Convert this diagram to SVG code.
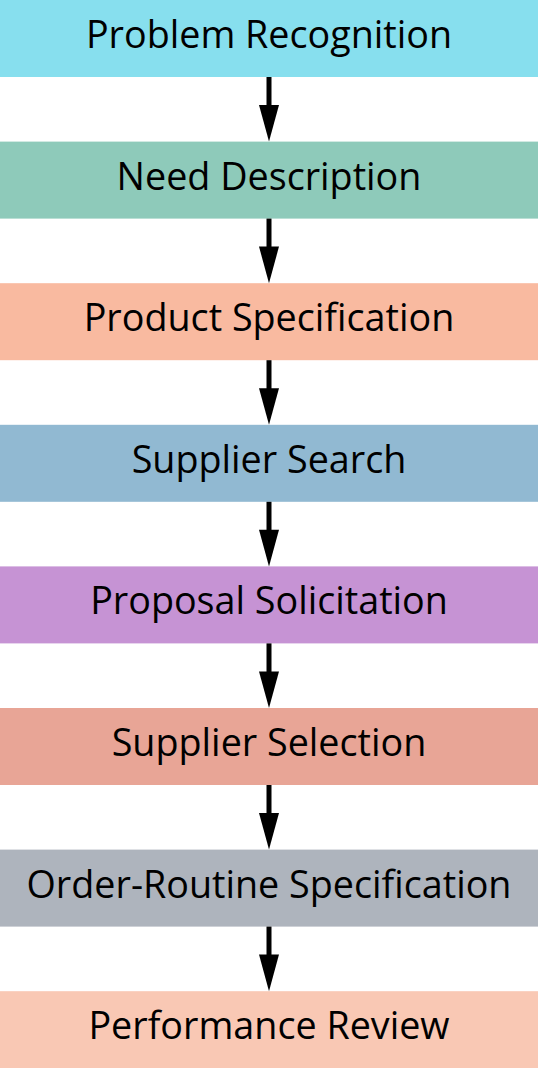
<svg xmlns="http://www.w3.org/2000/svg" width="538" height="1068" viewBox="0 0 538 1068">
<style>
.lbl{font-family:"Open Sans","Noto Sans",sans-serif;font-size:37.7px;fill:#000;text-anchor:middle}
.ln{stroke:#000;stroke-width:5;fill:none}
.ah{fill:#000}
</style>
<rect width="538" height="1068" fill="#fff"/>
<g id="n1"><rect x="0" y="0" width="538" height="77" fill="#87DFEE"/><text class="lbl" x="269" y="48">Problem Recognition</text></g>
<g id="n2"><rect x="0" y="141.6" width="538" height="77" fill="#8ECABA"/><text class="lbl" x="269" y="189.6">Need Description</text></g>
<g id="n3"><rect x="0" y="283.2" width="538" height="77" fill="#F9BAA0"/><text class="lbl" x="269" y="331.2">Product Specification</text></g>
<g id="n4"><rect x="0" y="424.8" width="538" height="77" fill="#91B9D2"/><text class="lbl" x="269" y="472.8">Supplier Search</text></g>
<g id="n5"><rect x="0" y="566.4" width="538" height="77" fill="#C693D4"/><text class="lbl" x="269" y="614.4">Proposal Solicitation</text></g>
<g id="n6"><rect x="0" y="708" width="538" height="77" fill="#E8A596"/><text class="lbl" x="269" y="756">Supplier Selection</text></g>
<g id="n7"><rect x="0" y="849.6" width="538" height="77" fill="#AEB4BD"/><text class="lbl" x="269" y="897.6">Order-Routine Specification</text></g>
<g id="n8"><rect x="0" y="991.2" width="538" height="77" fill="#F9C8B4"/><text class="lbl" x="269" y="1039.2">Performance Review</text></g>
<g id="edges">
<line class="ln" x1="269" y1="77" x2="269" y2="106"/><polygon class="ah" points="259,105 279,105 269,141.6"/>
<line class="ln" x1="269" y1="218.6" x2="269" y2="247.6"/><polygon class="ah" points="259,246.6 279,246.6 269,283.2"/>
<line class="ln" x1="269" y1="360.2" x2="269" y2="389.2"/><polygon class="ah" points="259,388.2 279,388.2 269,424.8"/>
<line class="ln" x1="269" y1="501.8" x2="269" y2="530.8"/><polygon class="ah" points="259,529.8 279,529.8 269,566.4"/>
<line class="ln" x1="269" y1="643.4" x2="269" y2="672.4"/><polygon class="ah" points="259,671.4 279,671.4 269,708"/>
<line class="ln" x1="269" y1="785" x2="269" y2="814"/><polygon class="ah" points="259,813 279,813 269,849.6"/>
<line class="ln" x1="269" y1="926.6" x2="269" y2="955.6"/><polygon class="ah" points="259,954.6 279,954.6 269,991.2"/>
</g>
</svg>
